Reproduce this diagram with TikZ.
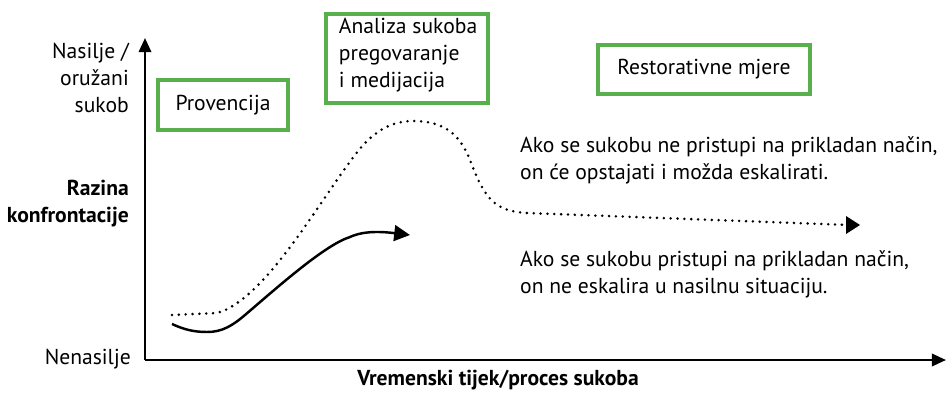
\documentclass[tikz,border=0pt]{standalone}
\usepackage{fontspec}
\setmainfont{PT Sans}
\usetikzlibrary{arrows.meta}
\definecolor{okvir}{RGB}{88,176,76}
\tikzset{
  zeleni/.style={draw=okvir,line width=2.3pt,inner sep=0pt},
  os/.style={line width=1.4pt,-{Triangle[length=8pt,width=7pt]}},
  tocke/.style={line width=1.6pt,dash pattern=on 0pt off 3.9pt,line cap=round},
  opis/.style={font=\fontsize{12.3}{15.3}\selectfont,align=left}
}
\begin{document}
\begin{tikzpicture}[x=0.02cm,y=-0.02cm]
        \useasboundingbox (0,0) rectangle (946,392);
        %osi
        \coordinate (ishod) at (145,360);
        \coordinate (vrhy) at (145,38);
        \coordinate (vrhx) at (946,360);
        \draw[os] (ishod) -- (vrhy);
        \draw[os] (ishod) -- (vrhx);
        %natpisi osi
        \node[opis,align=right,anchor=east] (nasilje) at (135,78) {Nasilje /\\oružani\\sukob};
        \node[opis,align=right,anchor=east,font=\fontsize{12.3}{15.3}\selectfont\bfseries] (razina) at (135,204) {Razina\\konfrontacije};
        \node[opis,anchor=east] (nenasilje) at (137,359) {Nenasilje};
        \node[opis,font=\fontsize{12.3}{15.3}\selectfont\bfseries] (vrijeme) at (498,380) {Vremenski tijek/proces sukoba};
        %okviri
        \node[zeleni,opis,minimum width=2.6cm,minimum height=1.0cm] (prov) at (223,105) {Provencija};
        \node[zeleni,opis,anchor=north west,minimum width=3.24cm,minimum height=1.78cm] (analiza) at (324,12) {};
        \node[opis,anchor=north west] (analizatekst) at (analiza.north west) [xshift=5pt,yshift=0pt] {Analiza sukoba\\pregovaranje\\i medijacija};
        \node[zeleni,opis,minimum width=4.24cm,minimum height=0.98cm] (restor) at (704,69.5) {Restorativne mjere};
        %tekstovi
        \node[opis,anchor=west] (lose) at (514,160) {Ako se sukobu ne pristupi na prikladan način,\\on će opstajati i možda eskalirati.};
        \node[opis,anchor=west] (dobro) at (514,274) {Ako se sukobu pristupi na prikladan način,\\on ne eskalira u nasilnu situaciju.};
        %krivulje
        \coordinate (t1) at (172,315);
        \coordinate (t2) at (217,313);
        \coordinate (tvrh) at (413,121);
        \coordinate (t3) at (527,213);
        \coordinate (tkraj) at (860,225);
        \draw[tocke] (t1) -- (t2) .. controls (265,300) and (320,200) .. (355,155)
              .. controls (375,128) and (395,121) .. (tvrh)
              .. controls (445,121) and (460,135) .. (470,160)
              .. controls (485,200) and (495,211) .. (t3) -- (849,225);
        \fill (tkraj) -- ++(-14,-9) -- ++(0,18) -- cycle;
        \coordinate (s1) at (172,324);
        \coordinate (s2) at (207,332);
        \coordinate (s3) at (350,237);
        \coordinate (skraj) at (410,235);
        \draw[line width=1.4pt,-{Triangle[length=9pt,width=9pt]}] (s1) .. controls (185,330) and (195,332) .. (s2)
              .. controls (222,332) and (232,326) .. (245,315)
              .. controls (280,285) and (325,245) .. (s3)
              .. controls (365,230) and (385,232) .. (skraj);
\end{tikzpicture}
\end{document}
